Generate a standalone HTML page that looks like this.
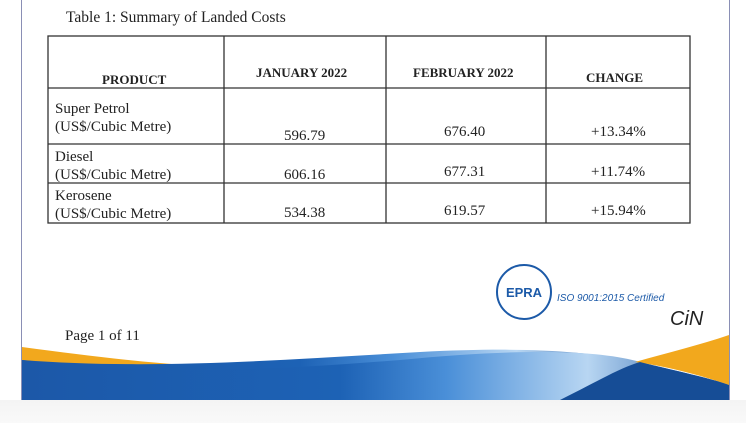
<!DOCTYPE html>
<html><head><style>
body{margin:0;width:746px;height:423px;background:#fff;position:relative;overflow:hidden;font-family:"Liberation Serif",serif;color:#222}
.a{position:absolute;white-space:nowrap}
.h{font-weight:bold;font-size:13px}
.t{font-size:15px}
</style></head><body>
<div class="a" style="left:21px;top:0;width:1px;height:400px;background:#8a8fb5"></div>
<div class="a" style="left:729px;top:0;width:1px;height:400px;background:#8a8fb5"></div>
<div class="a" style="left:0;top:400px;width:746px;height:23px;background:linear-gradient(#f4f4f4,#f9f9f9)"></div>
<div class="a t" style="left:66px;top:9px;font-size:15.5px">Table 1: Summary of Landed Costs</div>
<svg class="a" style="left:0;top:0" width="746" height="423">
<g stroke="#333" stroke-width="1.3" fill="none">
<rect x="48" y="36" width="642" height="187"/>
<line x1="48" y1="88" x2="690" y2="88"/>
<line x1="48" y1="144" x2="690" y2="144"/>
<line x1="48" y1="183" x2="690" y2="183"/>
<line x1="224" y1="36" x2="224" y2="223"/>
<line x1="386" y1="36" x2="386" y2="223"/>
<line x1="546" y1="36" x2="546" y2="223"/>
</g>
<defs><linearGradient id="bl" x1="0" x2="1"><stop offset="0" stop-color="#1c58a8"/><stop offset="0.45" stop-color="#1d62b5"/><stop offset="0.6" stop-color="#4a8fd8"/><stop offset="0.8" stop-color="#b8d6f2"/><stop offset="1" stop-color="#1a56a3"/></linearGradient></defs>
<path d="M22 347 C120 360 200 370 300 368 L22 372Z" fill="#f2a81d"/>
<path d="M22 360 C150 370 280 360 420 352 C520 347 580 350 640 362 L22 400Z" fill="url(#bl)"/>
<path d="M22 360 C150 375 250 372 400 360 C520 348 600 350 640 362 C680 372 710 378 729 385 L729 400 L22 400Z" fill="url(#bl)"/>
<path d="M635 362 C670 352 700 345 729 335 L729 385 C700 375 670 367 635 362Z" fill="#f2a81d"/>
<path d="M560 400 C600 380 620 368 640 362 C680 372 710 378 729 385 L729 400Z" fill="#164d96"/>
<circle cx="524" cy="292" r="27" fill="#fff" stroke="#1c5aa8" stroke-width="2"/>
<text x="524" y="297" font-family="Liberation Sans" font-weight="bold" font-size="13" fill="#1c5aa8" text-anchor="middle">EPRA</text>
<text x="557" y="301" font-family="Liberation Sans" font-style="italic" font-size="10" fill="#1c5aa8">ISO 9001:2015 Certified</text>
<text x="670" y="325" font-family="Liberation Sans" font-style="italic" font-size="20" fill="#222">CiN</text>
</svg>
<div class="a h" style="left:102px;top:72px">PRODUCT</div>
<div class="a h" style="left:256px;top:65px">JANUARY 2022</div>
<div class="a h" style="left:413px;top:65px">FEBRUARY 2022</div>
<div class="a h" style="left:586px;top:70px">CHANGE</div>
<div class="a t" style="left:55px;top:100px;line-height:18px">Super Petrol<br>(US$/Cubic Metre)</div>
<div class="a t" style="left:55px;top:148px;line-height:18px">Diesel<br>(US$/Cubic Metre)</div>
<div class="a t" style="left:55px;top:187px;line-height:18px">Kerosene<br>(US$/Cubic Metre)</div>
<div class="a t" style="left:284px;top:128px">596.79</div>
<div class="a t" style="left:444px;top:124px">676.40</div>
<div class="a t" style="left:591px;top:124px">+13.34%</div>
<div class="a t" style="left:284px;top:167px">606.16</div>
<div class="a t" style="left:444px;top:164px">677.31</div>
<div class="a t" style="left:591px;top:164px">+11.74%</div>
<div class="a t" style="left:284px;top:205px">534.38</div>
<div class="a t" style="left:444px;top:203px">619.57</div>
<div class="a t" style="left:591px;top:203px">+15.94%</div>
<div class="a t" style="left:65px;top:328px">Page 1 of 11</div>
</body></html>
